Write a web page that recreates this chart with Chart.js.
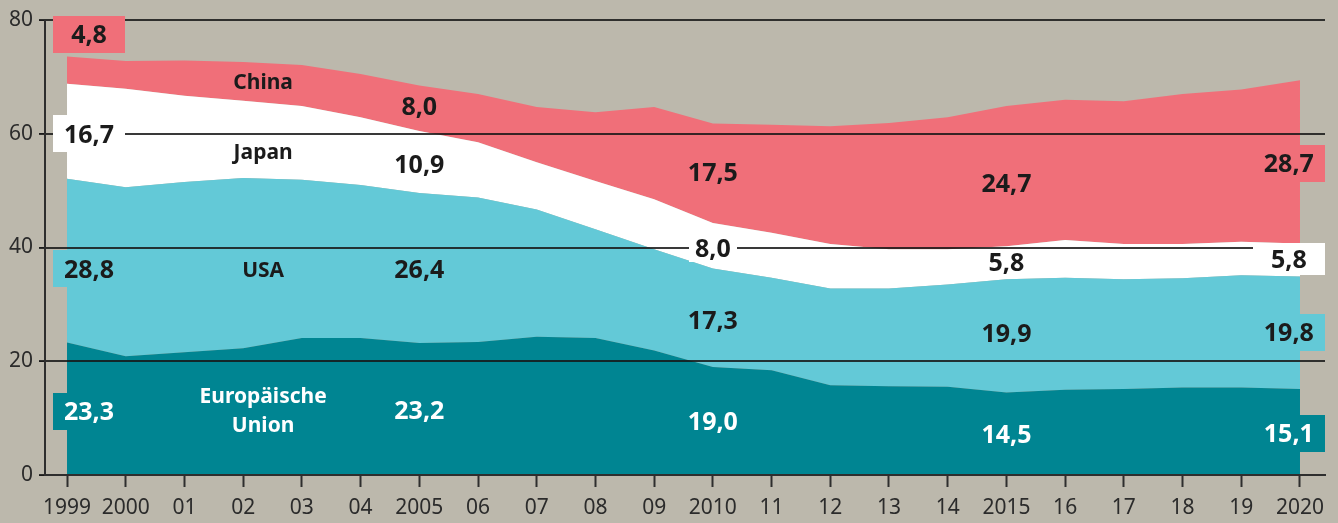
<!DOCTYPE html>
<html>
<head>
<meta charset="utf-8">
<script src="https://cdn.jsdelivr.net/npm/chart.js@4.4.0/dist/chart.umd.min.js"></script>
<style>
  html, body { margin: 0; padding: 0; background: #bcb8ac; }
  #wrap { width: 1338px; height: 523px; }
</style>
</head>
<body>
<div id="wrap"><canvas id="area-chart" width="1338" height="523"></canvas></div>
<script>
// data (percent share, stacked)
var years = [1999, 2000, 2001, 2002, 2003, 2004, 2005, 2006, 2007, 2008, 2009,
             2010, 2011, 2012, 2013, 2014, 2015, 2016, 2017, 2018, 2019, 2020];
var eu_values    = [23.3, 20.9, 21.6, 22.3, 24.1, 24.1, 23.2, 23.4, 24.3, 24.1, 21.9,
                    19.0, 18.4, 15.8, 15.6, 15.5, 14.5, 15.0, 15.1, 15.4, 15.4, 15.1];
var usa_values   = [28.8, 29.7, 29.9, 29.9, 27.8, 26.9, 26.4, 25.4, 22.4, 19.1, 17.8,
                    17.3, 16.3, 17.0, 17.2, 18.0, 19.9, 19.7, 19.3, 19.2, 19.7, 19.8];
var japan_values = [16.7, 17.3, 15.2, 13.6, 13.0, 11.9, 10.9, 9.7, 8.3, 8.5, 8.8,
                    8.0, 7.9, 7.8, 6.9, 6.2, 5.8, 6.6, 6.2, 6.0, 5.9, 5.8];
var china_values = [4.8, 4.9, 6.2, 6.8, 7.2, 7.6, 8.0, 8.5, 9.7, 12.1, 16.2,
                    17.5, 19.0, 20.7, 22.2, 23.2, 24.7, 24.7, 25.1, 26.4, 26.8, 28.7];
var series_names = ["Europäische Union", "USA", "Japan", "China"];
var y_ticks = [0, 20, 40, 60, 80];
var full_year_labels = [1999, 2000, 2005, 2010, 2015, 2020];

// colours
var bg_color    = "#bcb8ac";
var eu_color    = "#008592";
var usa_color   = "#63c9d7";
var japan_color = "#ffffff";
var china_color = "#f06f79";
var dark_text   = "#1b1b1b";
var axis_color  = "#2e2e2e";

function to_points(values){
  var pts = [];
  for(var i=0;i<years.length;i++){
    pts.push({x: years[i], y: values[i]});
  }
  return pts;
}

function fmt(v){ // german decimal comma
  return v.toFixed(1).replace(".", ",");
}

// label placement (year / value coordinates), kept apart from the data
var left_x  = 1999.375;
var right_x = 2019.81;
var value_labels = [
  // 1999 column, boxed
  {values: china_values, i: 0,  x: left_x,  y: 77.5, box: china_color, color: dark_text},
  {values: japan_values, i: 0,  x: left_x,  y: 60.0, box: japan_color, color: dark_text},
  {values: usa_values,   i: 0,  x: left_x,  y: 36.3, box: usa_color,   color: dark_text},
  {values: eu_values,    i: 0,  x: left_x,  y: 11.2, box: eu_color,    color: "#ffffff"},
  // 2005
  {values: china_values, i: 6,  x: 2005, y: 64.9, color: dark_text},
  {values: japan_values, i: 6,  x: 2005, y: 54.7, color: dark_text},
  {values: usa_values,   i: 6,  x: 2005, y: 36.2, color: dark_text},
  {values: eu_values,    i: 6,  x: 2005, y: 11.4, color: "#ffffff"},
  // 2010
  {values: china_values, i: 11, x: 2010, y: 53.3, color: dark_text},
  {values: japan_values, i: 11, x: 2010, y: 40.0, box: japan_color, bw: 48, bh: 28, color: dark_text},
  {values: usa_values,   i: 11, x: 2010, y: 27.3, color: dark_text},
  {values: eu_values,    i: 11, x: 2010, y: 9.5,  color: "#ffffff"},
  // 2015
  {values: china_values, i: 16, x: 2015, y: 51.3, color: dark_text},
  {values: japan_values, i: 16, x: 2015, y: 37.5, color: dark_text},
  {values: usa_values,   i: 16, x: 2015, y: 25.0, color: dark_text},
  {values: eu_values,    i: 16, x: 2015, y: 7.2,  color: "#ffffff"},
  // 2020 column, boxed
  {values: china_values, i: 21, x: right_x, y: 54.8, box: china_color, color: dark_text},
  {values: japan_values, i: 21, x: right_x, y: 38.0, box: japan_color, bh: 32, color: dark_text},
  {values: usa_values,   i: 21, x: right_x, y: 25.1, box: usa_color,   color: dark_text},
  {values: eu_values,    i: 21, x: right_x, y: 7.3,  box: eu_color,    color: "#ffffff"}
];
var name_labels = [
  {text: "China",       x: 2002.34, y: 69.1, color: dark_text},
  {text: "Japan",       x: 2002.34, y: 56.8, color: dark_text},
  {text: "USA",         x: 2002.34, y: 36.2, color: dark_text},
  {text: "Europäische", x: 2002.34, y: 13.9, color: "#ffffff"},
  {text: "Union",       x: 2002.34, y: 8.8,  color: "#ffffff"}
];

var bg_plugin = {
  id: "bg",
  beforeDraw: function(chart){
    var ctx = chart.ctx;
    ctx.save();
    ctx.fillStyle = bg_color;
    ctx.fillRect(0, 0, chart.width, chart.height);
    ctx.restore();
  }
};

// horizontal rules sit on top of the coloured areas in the original
var grid_plugin = {
  id: "gridOnTop",
  afterDatasetsDraw: function(chart){
    var ctx = chart.ctx, ys = chart.scales.y, area = chart.chartArea;
    ctx.save();
    ctx.strokeStyle = "rgba(22,22,22,0.85)";
    ctx.lineWidth = 2;
    for(var i=0;i<y_ticks.length;i++){
      var py = Math.round(ys.getPixelForValue(y_ticks[i]));
      ctx.beginPath();
      ctx.moveTo(area.left - 6, py);
      ctx.lineTo(y_ticks[i] === 0 ? area.left : area.right, py);
      ctx.stroke();
    }
    ctx.restore();
  }
};

var label_plugin = {
  id: "labels",
  afterDraw: function(chart){
    var ctx = chart.ctx;
    var xs = chart.scales.x, ys = chart.scales.y;
    ctx.save();
    ctx.textAlign = "center";
    ctx.textBaseline = "alphabetic";
    // value labels
    ctx.font = "bold 25px 'Noto Sans'";
    for(var i=0;i<value_labels.length;i++){
      var l = value_labels[i];
      var px = xs.getPixelForValue(l.x);
      var py = ys.getPixelForValue(l.y);
      if(l.box){
        var bw = l.bw || 72, bh = l.bh || 37;
        ctx.fillStyle = l.box;
        ctx.fillRect(Math.round(px - bw/2), Math.round(py - bh/2), bw, bh);
      }
      ctx.fillStyle = l.color;
      ctx.fillText(fmt(l.values[l.i]), px, py + 9);
    }
    // series names
    ctx.font = "bold 21px 'Noto Sans'";
    for(var j=0;j<name_labels.length;j++){
      var n = name_labels[j];
      ctx.fillStyle = n.color;
      ctx.fillText(n.text, xs.getPixelForValue(n.x), ys.getPixelForValue(n.y) + 7.5);
    }
    ctx.restore();
  }
};

function make_dataset(name, values, color, fill){
  return {
    label: name,
    data: to_points(values),
    backgroundColor: color,
    borderWidth: 0,
    pointRadius: 0,
    tension: 0,
    fill: fill
  };
}

var area_ctx = document.getElementById("area-chart").getContext("2d");
var area_config = {
  type: "line",
  data: {
    datasets: [
      make_dataset(series_names[0], eu_values,    eu_color,    "origin"),
      make_dataset(series_names[1], usa_values,   usa_color,   "-1"),
      make_dataset(series_names[2], japan_values, japan_color, "-1"),
      make_dataset(series_names[3], china_values, china_color, "-1")
    ]
  },
  options: {
    responsive: false,
    animation: false,
    layout: { padding: { left: 0, right: 13, top: 20, bottom: 0 } },
    plugins: {
      legend: { display: false },
      tooltip: { enabled: false }
    },
    scales: {
      x: {
        type: "linear",
        min: 1998.625,
        max: 2020.426,
        afterBuildTicks: function(scale){
          scale.ticks = years.map(function(y){ return {value: y}; });
        },
        afterFit: function(scale){ scale.height = 48; },
        ticks: {
          autoSkip: false,
          maxRotation: 0,
          padding: 8,
          color: "#2b2b2b",
          font: { family: "'Noto Sans'", size: 21 },
          callback: function(v){
            if(full_year_labels.indexOf(v) >= 0) return String(v);
            return String(v).slice(2);
          }
        },
        grid: {
          drawOnChartArea: false,
          drawTicks: true,
          tickLength: 12,
          tickColor: axis_color,
          tickWidth: 2
        },
        border: { color: axis_color, width: 2, z: 1 }
      },
      y: {
        stacked: true,
        min: 0,
        max: 80,
        afterBuildTicks: function(scale){
          scale.ticks = y_ticks.map(function(v){ return {value: v}; });
        },
        afterFit: function(scale){ scale.width = 45; },
        ticks: {
          padding: 6,
          color: "#2b2b2b",
          font: { family: "'Noto Sans'", size: 21 }
        },
        grid: {
          display: true,
          drawOnChartArea: false,
          tickLength: 6,
          tickColor: axis_color
        },
        border: { color: axis_color, width: 2, z: 1 }
      }
    }
  },
  plugins: [bg_plugin, grid_plugin, label_plugin]
};
var my_area = new Chart(area_ctx, area_config);
</script>
</body>
</html>
